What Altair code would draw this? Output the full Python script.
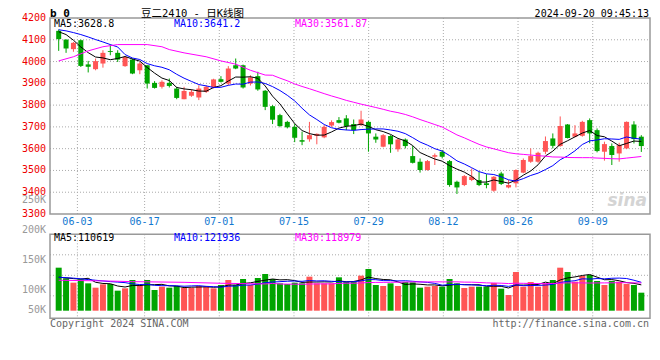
import altair as alt
import pandas as pd

# ---------------- data ----------------
opens = [4141, 4101, 4057, 4098, 3987, 3965, 3991, 4048, 4040, 3979,
         4009, 3960, 3983, 3902, 3884, 3902, 3876, 3827, 3843, 3835,
         3861, 3881, 3919, 3899, 3983, 3983, 3899, 3933, 3866, 3795,
         3754, 3723, 3700, 3639, 3643, 3659, 3652, 3706, 3731, 3739,
         3713, 3708, 3723, 3655, 3609, 3658, 3597, 3642, 3566, 3540,
         3502, 3563, 3586, 3543, 3448, 3433, 3456, 3456, 3441, 3407,
         3486, 3422, 3441, 3490, 3540, 3540, 3586, 3647, 3612, 3711,
         3655, 3659, 3731, 3685, 3586, 3612, 3578, 3601, 3711, 3655]
highs = [4147, 4101, 4090, 4101, 4003, 4014, 4052, 4078, 4052, 4024,
         4014, 3998, 3983, 3910, 3914, 3922, 3884, 3884, 3872, 3891,
         3891, 3921, 3933, 3979, 4014, 3986, 3937, 3953, 3869, 3800,
         3760, 3728, 3713, 3678, 3723, 3670, 3708, 3730, 3745, 3754,
         3734, 3774, 3727, 3670, 3667, 3662, 3647, 3647, 3612, 3555,
         3548, 3578, 3594, 3548, 3453, 3479, 3509, 3494, 3483, 3474,
         3494, 3456, 3505, 3555, 3601, 3586, 3656, 3670, 3748, 3713,
         3708, 3728, 3739, 3693, 3632, 3624, 3627, 3725, 3726, 3662]
lows = [4049, 4040, 4045, 3975, 3950, 3960, 3972, 4029, 3998, 3976,
        3942, 3942, 3876, 3876, 3876, 3881, 3827, 3827, 3838, 3823,
        3856, 3876, 3904, 3891, 3965, 3876, 3890, 3866, 3777, 3713,
        3698, 3693, 3630, 3616, 3632, 3620, 3648, 3700, 3716, 3685,
        3667, 3704, 3586, 3627, 3606, 3581, 3586, 3601, 3532, 3490,
        3499, 3525, 3555, 3425, 3392, 3428, 3451, 3428, 3418, 3402,
        3433, 3418, 3422, 3487, 3535, 3535, 3575, 3601, 3609, 3647,
        3652, 3655, 3625, 3583, 3545, 3525, 3540, 3598, 3624, 3585]
closes = [4103, 4060, 4086, 3980, 3976, 4002, 4040, 4044, 4009, 4021,
          3945, 3991, 3899, 3879, 3907, 3888, 3833, 3865, 3861, 3876,
          3884, 3918, 3907, 3968, 3968, 3881, 3927, 3872, 3792, 3733,
          3704, 3698, 3650, 3632, 3662, 3668, 3700, 3722, 3719, 3704,
          3685, 3734, 3670, 3642, 3662, 3620, 3642, 3612, 3535, 3502,
          3543, 3570, 3563, 3433, 3422, 3474, 3471, 3433, 3433, 3471,
          3438, 3433, 3502, 3548, 3566, 3581, 3635, 3613, 3704, 3649,
          3670, 3723, 3670, 3589, 3621, 3571, 3616, 3723, 3644, 3612]
volumes = [185000, 139200, 120500, 134900, 117700, 99000, 113400, 114800, 86100, 96200,
           132000, 110500, 132000, 89000, 103300, 99000, 106200, 99000, 99000, 106200,
           103300, 96200, 110500, 132000, 110500, 136300, 110500, 140600, 157800, 136300,
           117700, 114800, 120500, 117700, 146300, 117700, 117700, 117700, 143500, 124800,
           124800, 150600, 179300, 110500, 106200, 117700, 106200, 123400, 122000, 99000,
           103300, 106200, 103300, 136300, 117700, 97600, 103300, 103300, 103300, 119100,
           94700, 67500, 166400, 103300, 123400, 103300, 117700, 132000, 185000, 166400,
           124800, 149200, 153500, 127700, 110500, 127700, 124800, 114800, 110500, 77500]

# moving-average values read for the start of the chart (earlier history not shown)
price_ma5_head = [4137, 4124, 4098, 4067]
price_ma10_head = [4146, 4141, 4133, 4124, 4113, 4101, 4090, 4078, 4067]
price_ma30_head_idx = [0, 2, 4, 6, 8, 12, 14, 15, 17, 20, 22, 24, 26, 28]
price_ma30_head_val = [4003, 4022, 4049, 4068, 4078, 4078, 4068, 4055, 4040, 4022, 4003, 3988, 3960, 3938]
vol_ma5_head = [144000, 141000, 138000, 136000]
vol_ma10_head = [144000, 142000, 140000, 137000, 134000, 131000, 128000, 125000, 123000]
vol_ma30_head_idx = [0, 6, 10, 17, 22, 28]
vol_ma30_head_val = [131000, 128000, 125000, 122000, 118000, 115000]

date_labels = ["06-03", "06-17", "07-01", "07-15", "07-29", "08-12", "08-26", "09-09"]
date_idx = [3, 12, 22, 32, 42, 52, 62, 72]
price_ticks = [3300, 3400, 3500, 3600, 3700, 3800, 3900, 4000, 4100, 4200]
price_grid = [3400, 3500, 3600, 3700, 3800, 3900, 4000, 4100]
vol_label_text = ["50K", "100K", "150K", "200K", "250K"]
vol_label_val = [50000, 100000, 150000, 200000, 250000]

price_legend = ["MA5:3628.8", "MA10:3641.2", "MA30:3561.87"]
vol_legend = ["MA5:110619", "MA10:121936", "MA30:118979"]
ma_names = ["MA5", "MA10", "MA30"]
ma_colors = ["#000000", "#0000ff", "#ff00ff"]

RED = "#ff5555"
GREEN = "#00a400"
MONO = "DejaVu Sans Mono"

# ---------------- tables ----------------
n = len(closes)
df = pd.DataFrame({"i": range(n), "o": opens, "h": highs, "l": lows, "c": closes, "v": volumes})
df["col"] = [RED if c >= o else GREEN for o, c in zip(opens, closes)]


def ma_rows(values, win, head_idx, head_val, name):
    s = pd.Series(values, dtype=float).rolling(win).mean()
    rows = [{"i": i, "val": v, "s": name} for i, v in zip(head_idx, head_val)]
    rows += [{"i": i, "val": float(s[i]), "s": name} for i in range(win - 1, len(values))]
    return rows


pma = pd.DataFrame(
    ma_rows(closes, 5, list(range(4)), price_ma5_head, "MA5")
    + ma_rows(closes, 10, list(range(9)), price_ma10_head, "MA10")
    + ma_rows(closes, 30, price_ma30_head_idx, price_ma30_head_val, "MA30"))
vma = pd.DataFrame(
    ma_rows(volumes, 5, list(range(4)), vol_ma5_head, "MA5")
    + ma_rows(volumes, 10, list(range(9)), vol_ma10_head, "MA10")
    + ma_rows(volumes, 30, vol_ma30_head_idx, vol_ma30_head_val, "MA30"))

# the chart's date grid divides the width into n-1 steps while candles use n slots
dates_df = pd.DataFrame({"g": [k * n / (n - 1) - 0.5 for k in date_idx], "d": date_labels})

# ---------------- scales ----------------
W = 600
PT, PB = 0, 196          # price panel pixel rows
VT, VB = 216.3, 300.3     # volume panel pixel rows
xs = alt.Scale(domain=[-0.5, n - 0.5], range=[0, W], nice=False, zero=False)
ps = alt.Scale(domain=[3300, 4200], range=[PB, PT], nice=False, zero=False)
VMIN, VMAX = -32680, 328520
vs = alt.Scale(domain=[VMIN, VMAX], range=[VB, VT], nice=False, zero=False)
ls = alt.Scale(domain=[50000, 100000, 250000], range=[292, 272, 182], nice=False, zero=False)
ma_color = alt.Color("s:N", scale=alt.Scale(domain=ma_names, range=ma_colors), legend=None)

X = alt.X("i:Q", scale=xs, axis=None)
XG = alt.X("g:Q", scale=xs, axis=None)
GRID = dict(color="#aaaaaa", strokeDash=[1, 2], strokeWidth=1)

base = alt.Chart(df)

# price panel
p_hgrid = alt.Chart(pd.DataFrame({"p": price_grid})).mark_rule(**GRID).encode(
    y=alt.Y("p:Q", scale=ps, axis=None), x=alt.value(0), x2=alt.value(W))
p_vgrid = alt.Chart(dates_df).mark_rule(**GRID).encode(
    x=XG, y=alt.value(PT), y2=alt.value(PB))
wick = base.mark_rule(strokeWidth=1).encode(
    x=X, y=alt.Y("l:Q", scale=ps, axis=None), y2="h:Q", color=alt.Color("col:N", scale=None))
body = base.mark_bar(size=5).encode(
    x=X, y=alt.Y("o:Q", scale=ps, axis=None), y2="c:Q", color=alt.Color("col:N", scale=None))
p_lines = alt.Chart(pma).mark_line(strokeWidth=1).encode(
    x=X, y=alt.Y("val:Q", scale=ps, axis=None), color=ma_color, order="i:Q")
p_labels = alt.Chart(pd.DataFrame({"p": price_ticks})).mark_text(
    align="right", baseline="middle", font=MONO, fontSize=10, color="#ee0000").encode(
    y=alt.Y("p:Q", scale=ps, axis=None), x=alt.value(-4), text="p:Q")
date_text = alt.Chart(dates_df).mark_text(
    align="center", baseline="middle", font=MONO, fontSize=10, color="#1278d0").encode(
    x=XG, y=alt.value(203.7), text="d:N")
price_layer = alt.layer(p_hgrid, p_vgrid, wick, body, p_lines, p_labels, date_text)

# volume panel: dotted rows every 20.5 px below the top border
vgrid_vals = [VMAX - (k * 20.5) / (VB - VT) * (VMAX - VMIN) for k in (1, 2, 3)]
v_hgrid = alt.Chart(pd.DataFrame({"gv": vgrid_vals})).mark_rule(**GRID).encode(
    y=alt.Y("gv:Q", scale=vs, axis=None), x=alt.value(0), x2=alt.value(W))
v_vgrid = alt.Chart(dates_df).mark_rule(**GRID).encode(
    x=XG, y=alt.value(VT), y2=alt.value(VB))
vbars = base.mark_bar(size=6).encode(
    x=X, y=alt.Y("v:Q", scale=vs, axis=None), y2=alt.datum(0), color=alt.Color("col:N", scale=None))
v_lines = alt.Chart(vma).mark_line(strokeWidth=1).encode(
    x=X, y=alt.Y("val:Q", scale=vs, axis=None), color=ma_color, order="i:Q")
volume_layer = alt.layer(v_hgrid, v_vgrid, vbars, v_lines)

v_labels = alt.Chart(pd.DataFrame({"t": vol_label_text, "v": vol_label_val})).mark_text(
    align="right", baseline="middle", font=MONO, fontSize=10, color="#999999").encode(
    y=alt.Y("v:Q", scale=ls, axis=None), x=alt.value(-4), text="t:N")

# frames and annotations
one = pd.DataFrame({"k": [0]})
frames = alt.layer(
    alt.Chart(one).mark_rect(fill="transparent", stroke="#999999", strokeWidth=1.5).encode(
        x=alt.value(0), x2=alt.value(W), y=alt.value(PT), y2=alt.value(PB)),
    alt.Chart(one).mark_rect(fill="transparent", stroke="#999999", strokeWidth=1.5).encode(
        x=alt.value(0), x2=alt.value(W), y=alt.value(VT), y2=alt.value(VB)),
)


def txt(s, x, y, color="#000000", align="left", size=10, font=MONO, weight="normal",
        baseline="middle", style="normal"):
    return alt.Chart(one).mark_text(
        text=s, align=align, baseline=baseline, font=font, fontSize=size, color=color,
        fontWeight=weight, fontStyle=style).encode(x=alt.value(x), y=alt.value(y))


legend_x = [4, 124, 245]
notes = []
for t, c, lx in zip(price_legend, ma_colors, legend_x):
    notes.append(txt(t, lx, 5.5, color=c))
for t, c, lx in zip(vol_legend, ma_colors, legend_x):
    notes.append(txt(t, lx, 220, color=c))
notes += [
    txt("b 0", 0, -1.5, weight="bold", size=11, baseline="alphabetic"),
    txt("豆二2410 - 日K线图", 91, -1.5, size=10.5, font="DejaVu Sans Mono, Noto Sans CJK SC",
        baseline="alphabetic"),
    txt("2024-09-20 09:45:13", 599, -1.5, align="right", baseline="alphabetic"),
    txt("Copyright 2024 SINA.COM", 0, 306, color="#666666"),
    txt("http://finance.sina.com.cn", 599, 306, color="#666666", align="right"),
    txt("sina", 597, 183, color="#d4d4d4", size=17, font="DejaVu Sans", weight="bold",
        style="italic", align="right"),
]

chart = alt.layer(price_layer, volume_layer, v_labels, frames, *notes).resolve_scale(
    y="independent", color="independent"
).properties(
    width=W, height=300,
    autosize=alt.AutoSizeParams(type="none"),
    padding={"left": 42, "top": 10, "right": 2, "bottom": 28},
    background="white",
).configure_view(stroke=None)

chart.save("out.html", embed_options={"renderer": "svg", "actions": False})
